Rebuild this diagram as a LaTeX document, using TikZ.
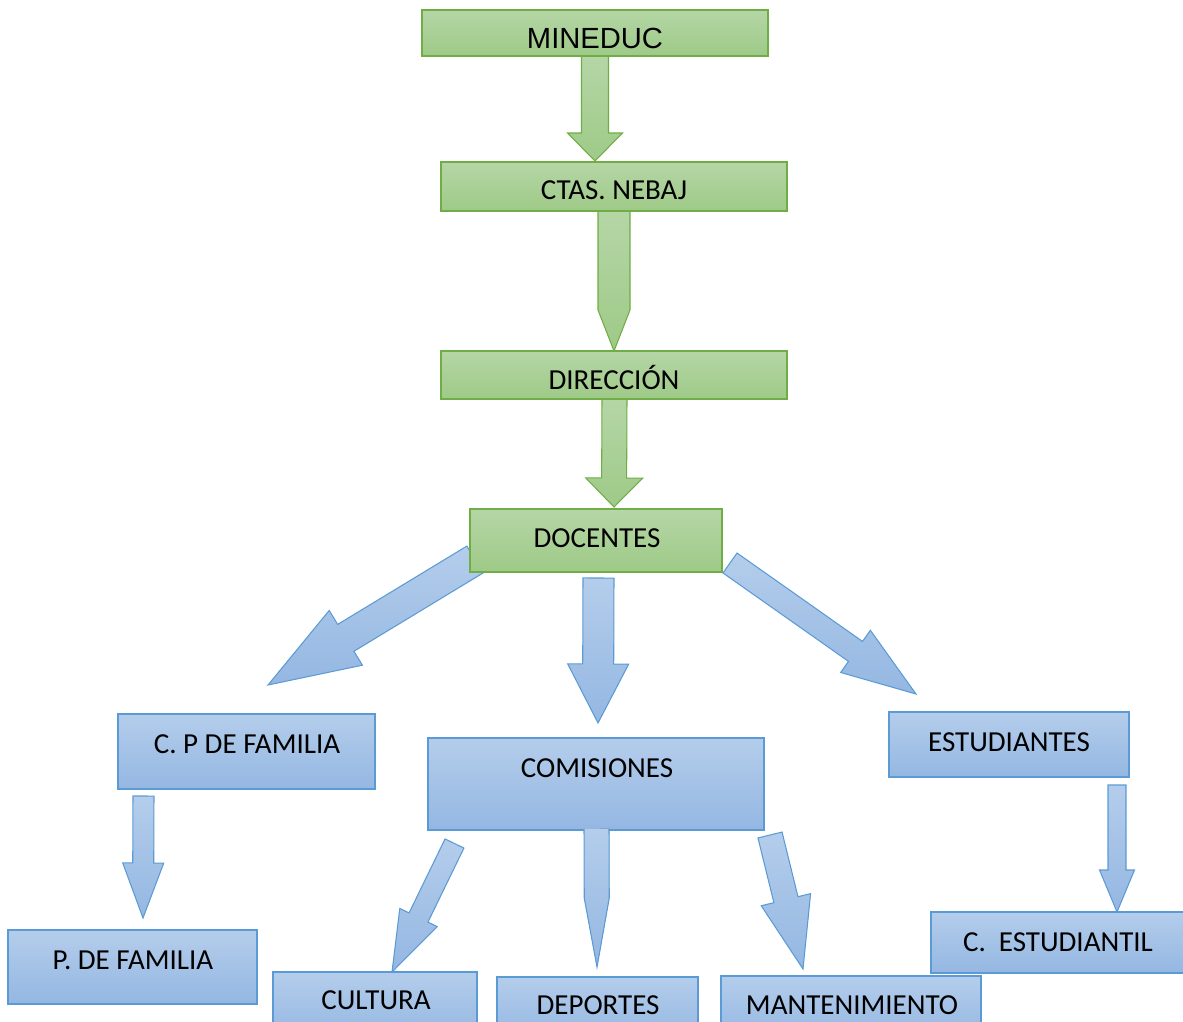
\documentclass[tikz,border=0pt]{standalone}
\usepackage{fontspec}
\setmainfont{Carlito}
\newfontfamily\arialfont{Liberation Sans}
\usetikzlibrary{calc}
\definecolor{gtop}{RGB}{181,214,166}
\definecolor{gbot}{RGB}{158,202,135}
\definecolor{gline}{RGB}{112,173,71}
\definecolor{btop}{RGB}{180,205,235}
\definecolor{bbot}{RGB}{148,183,226}
\definecolor{bline}{RGB}{91,155,213}
\tikzset{
  boxbase/.style={rectangle, inner sep=0pt, outer sep=0pt, anchor=north west, line width=0.6pt},
  greenbox/.style={boxbase, draw=gline, top color=gtop, bottom color=gbot},
  bluebox/.style={boxbase, draw=bline, top color=btop, bottom color=bbot},
  greenarrow/.style={draw=gline, line width=0.6pt, line join=miter, top color=gtop, bottom color=gbot},
  bluearrow/.style={draw=bline, line width=0.6pt, line join=miter, top color=btop, bottom color=bbot},
  bluefill/.style={top color=btop, bottom color=bbot},
  lbl/.style={inner sep=0pt, text=black, font=\fontsize{16.5}{20}\selectfont},
  albl/.style={inner sep=0pt, text=black, font=\arialfont\fontsize{16.6}{19}\selectfont}
}
% box: name, x1, y1, x2, y2, style
\newcommand{\bx}[6]{\node[#6, minimum width={(#4-#2)*0.02cm}, minimum height={(#5-#3)*0.02cm}] (#1) at (#2,#3) {};}
% block arrow points: start, end, shaft half width, head half width, head length (px)
\newcommand{\bapoints}[5]{%
  \pgfmathsetmacro{\bw}{#3*0.02}%
  \pgfmathsetmacro{\bh}{#4*0.02}%
  \pgfmathsetmacro{\bl}{#5*0.02}%
  \coordinate (ba-h) at ($(#2)!\bl cm!(#1)$);
  \coordinate (ba1) at ($(#1)!\bw cm!90:(#2)$);
  \coordinate (ba7) at ($(#1)!\bw cm!-90:(#2)$);
  \coordinate (ba2) at ($(ba-h)!\bw cm!90:(#2)$);
  \coordinate (ba6) at ($(ba-h)!\bw cm!-90:(#2)$);
  \coordinate (ba3) at ($(ba-h)!\bh cm!90:(#2)$);
  \coordinate (ba5) at ($(ba-h)!\bh cm!-90:(#2)$);
}
\newcommand{\blockarrow}[6][]{%
  \bapoints{#2}{#3}{#4}{#5}{#6}%
  \path[#1] (ba1) -- (ba2) -- (ba3) -- (#3) -- (ba5) -- (ba6) -- (ba7) -- cycle;
}
\newcommand{\openarrow}[6][]{%
  \bapoints{#2}{#3}{#4}{#5}{#6}%
  \fill[bluefill] (ba1) -- (ba2) -- (ba3) -- (#3) -- (ba5) -- (ba6) -- (ba7) -- cycle;
  \draw[#1, fill=none] (ba1) -- (ba2) -- (ba3) -- (#3) -- (ba5) -- (ba6) -- (ba7);
}
\begin{document}
\begin{tikzpicture}[x=0.02cm, y=-0.02cm]
\useasboundingbox (0,0) rectangle (1183,1021);
\clip (0,0) rectangle (1183,1021);

% arrow end points
\coordinate (a1s) at (595,56);    \coordinate (a1e) at (595,161);
\coordinate (a2s) at (614,211);   \coordinate (a2e) at (614,351);
\coordinate (a3s) at (614.5,399); \coordinate (a3e) at (614,507);
\coordinate (a4s) at (475,559.5); \coordinate (a4e) at (268,685);
\coordinate (a5s) at (598.5,578); \coordinate (a5e) at (598,723);
\coordinate (a6s) at (730,563);   \coordinate (a6e) at (916,694);
\coordinate (a7s) at (143.5,796); \coordinate (a7e) at (143,918);
\coordinate (a8s) at (454.5,843.5); \coordinate (a8e) at (392,972);
\coordinate (a9s) at (596.5,829); \coordinate (a9e) at (597,967);
\coordinate (a10s) at (770,835);  \coordinate (a10e) at (803,969);
\coordinate (a11s) at (1117,785); \coordinate (a11e) at (1117,912);

% block arrows
\blockarrow[greenarrow]{a1s}{a1e}{13.5}{27.5}{28}
\blockarrow[greenarrow]{a2s}{a2e}{16}{16}{41}
\blockarrow[greenarrow]{a3s}{a3e}{12.5}{28.5}{29}
\blockarrow[bluearrow]{a4s}{a4e}{15.7}{32}{91}
\blockarrow[bluearrow]{a5s}{a5e}{15.5}{30.5}{59}
\blockarrow[bluearrow]{a6s}{a6e}{12.2}{25.8}{74}
\blockarrow[bluearrow]{a7s}{a7e}{10.5}{20.5}{55}
\blockarrow[bluearrow]{a8s}{a8e}{10.5}{20.8}{60.6}
\blockarrow[bluearrow]{a10s}{a10e}{12.4}{25.4}{71.4}
\blockarrow[bluearrow]{a11s}{a11e}{9}{17.5}{42}

% boxes
\bx{mineduc}{422}{10}{768}{56}{greenbox}
\bx{ctas}{441}{162}{787}{211}{greenbox}
\bx{direccion}{441}{351}{787}{399}{greenbox}
\bx{docentes}{470}{509}{722}{572}{greenbox}
\bx{cpfamilia}{118}{714}{375}{789}{bluebox}
\bx{comisiones}{428}{738}{764}{830}{bluebox}
\bx{estudiantes}{889}{712}{1129}{777}{bluebox}
\bx{pfamilia}{8}{930}{257}{1004}{bluebox}
\bx{cultura}{273}{972}{477}{1040}{bluebox}
\bx{deportes}{497}{977}{698}{1040}{bluebox}
\bx{mantenimiento}{721}{976}{981}{1040}{bluebox}
\bx{cestudiantil}{931}{912}{1200}{973}{bluebox}

% arrow from COMISIONES to DEPORTES, drawn over the box edge
\openarrow[draw=bline, line width=0.6pt, line join=miter]{a9s}{a9e}{12.5}{12.5}{69}

% labels
\node[albl] (t-mineduc) at (595,38) {MINEDUC};
\node[lbl] (t-ctas) at (614,190) {CTAS. NEBAJ};
\node[lbl] (t-direccion) at (614,377) {DIRECCIÓN};
\node[lbl] (t-docentes) at (597,538) {DOCENTES};
\node[lbl] (t-cpfamilia) at (247,744) {C. P DE FAMILIA};
\node[lbl] (t-comisiones) at (597,768) {COMISIONES};
\node[lbl] (t-estudiantes) at (1009,742) {ESTUDIANTES};
\node[lbl] (t-pfamilia) at (133,960) {P. DE FAMILIA};
\node[lbl] (t-cultura) at (376,1000) {CULTURA};
\node[lbl] (t-deportes) at (598,1005) {DEPORTES};
\node[lbl] (t-mantenimiento) at (852,1005) {MANTENIMIENTO};
\node[lbl] (t-cestudiantil) at (1058,942) {C.\ \ ESTUDIANTIL};
\end{tikzpicture}
\end{document}
